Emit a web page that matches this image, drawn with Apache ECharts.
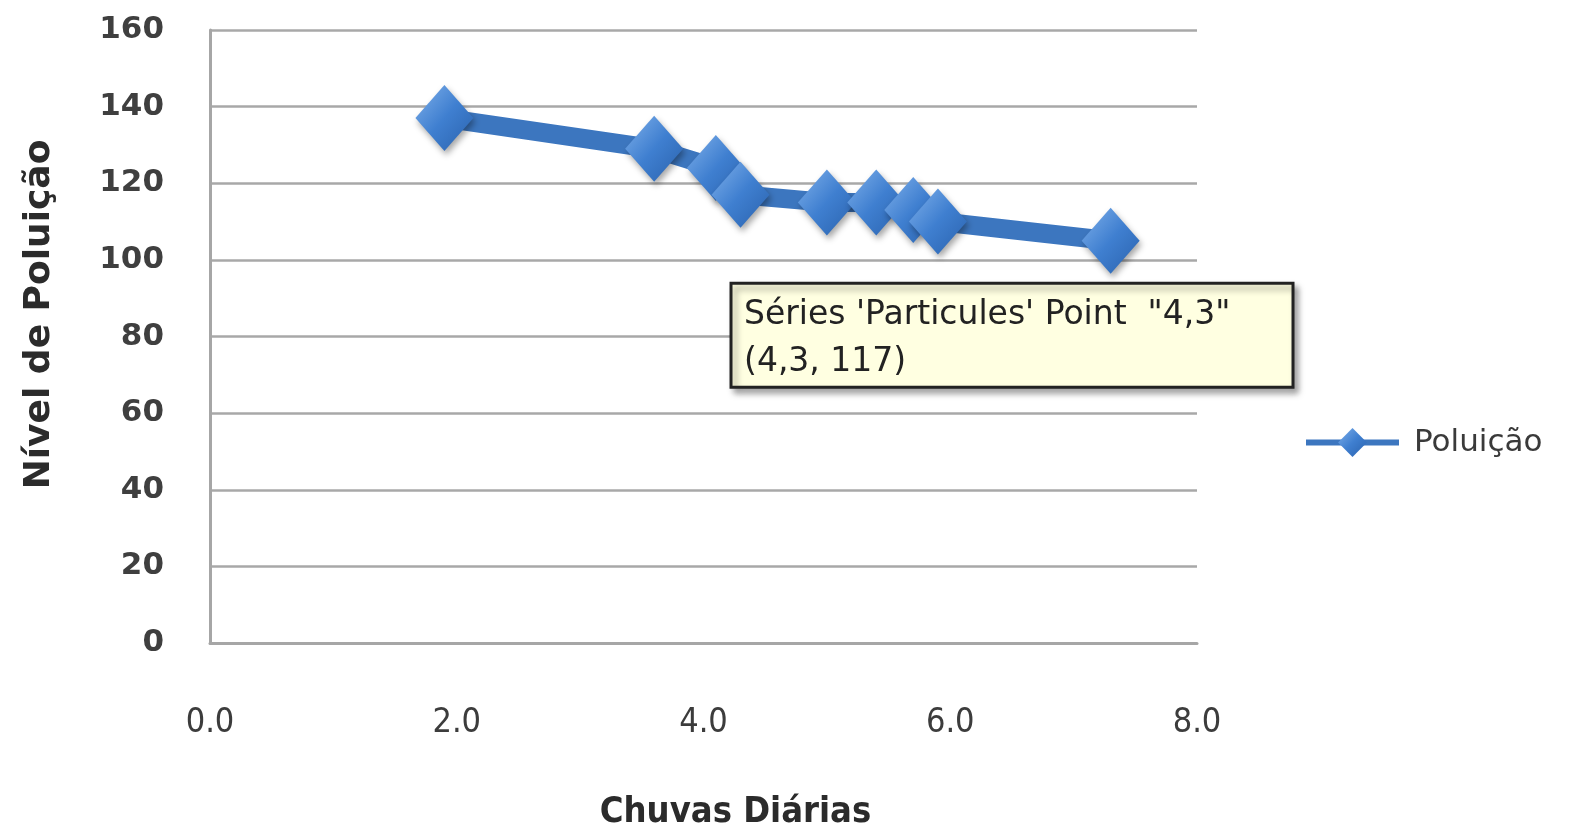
<!DOCTYPE html>
<html>
<head>
<meta charset="utf-8">
<script src="https://cdn.jsdelivr.net/npm/echarts@6/dist/echarts.min.js"></script>
<style>html,body{margin:0;padding:0;background:#fff}#c{width:1570px;height:831px}</style>
</head>
<body>
<div id="c"></div>
<script>
var chuvas = [1.9, 3.6, 4.1, 4.3, 5.0, 5.4, 5.7, 5.9, 7.3];
var poluicao = [137, 129, 124, 117, 115, 115, 113, 110, 105];
var seriesName = 'Poluição';
var xTitle = 'Chuvas Diárias';
var yTitle = 'Nível de Poluição';
var tipLine1 = "Séries 'Particules' Point  \"4,3\"";
var tipLine2 = '(4,3, 117)';
var tipPoint = [4.3, 117];

var data = chuvas.map(function (x, i) { return [x, poluicao[i]]; });

var chart = echarts.init(document.getElementById('c'));
var diamondColor = new echarts.graphic.LinearGradient(0, 0, 1, 1, [
  {offset: 0, color: '#7fb0ea'},
  {offset: 0.5, color: '#3f7fd0'},
  {offset: 1, color: '#2a62ad'}
]);
chart.setOption({
  animation: false,
  grid: {left: 210, right: 373, top: 30, bottom: 188, outerBoundsMode: 'none', containLabel: false},
  legend: {
    left: 1298, top: 422, orient: 'vertical',
    itemWidth: 93, itemHeight: 36, itemGap: 10,
    lineStyle: {width: 6, color: '#3c76bf'},
    itemStyle: {color: diamondColor},
    textStyle: {fontFamily: 'DejaVu Sans', fontSize: 31, color: '#3a3a3a', padding: [0, 0, 0, 10]},
    data: [{name: seriesName}]
  },
  xAxis: {
    type: 'value', min: 0, max: 8, interval: 2,
    name: xTitle, nameLocation: 'middle', nameGap: 152,
    nameTextStyle: {fontFamily: 'DejaVu Sans Condensed', fontWeight: 'bold', fontSize: 36, color: '#2b2b2b', padding: [0, 0, 0, 64]},
    axisLine: {show: true, lineStyle: {color: '#a6a6a6', width: 3}},
    axisTick: {show: false},
    splitLine: {show: false},
    axisLabel: {margin: 63, fontFamily: 'DejaVu Sans Condensed', fontSize: 34, color: '#3c3c3c',
      formatter: function (v) { return v.toFixed(1); }}
  },
  yAxis: {
    type: 'value', min: 0, max: 160, interval: 20,
    name: yTitle, nameLocation: 'middle', nameGap: 152, nameRotate: 90,
    nameTextStyle: {fontFamily: 'DejaVu Sans', fontWeight: 'bold', fontSize: 36, color: '#2b2b2b', padding: [0, 0, 0, 44]},
    axisLine: {show: true, lineStyle: {color: '#a6a6a6', width: 3}},
    axisTick: {show: false},
    splitLine: {show: true, lineStyle: {color: '#a8a8a8', width: 2.5}},
    axisLabel: {margin: 46, fontFamily: 'DejaVu Sans', fontWeight: 'bold', fontSize: 31, color: '#3f3f3f'}
  },
  series: [{
    name: seriesName, type: 'line', data: data,
    symbol: 'diamond', symbolSize: [58, 66],
    lineStyle: {color: '#3c76bf', width: 19},
    itemStyle: {color: diamondColor, shadowColor: 'rgba(0,0,0,0.35)', shadowBlur: 6, shadowOffsetX: 2, shadowOffsetY: 4},
    z: 3
  }]
});

var p = chart.convertToPixel({gridIndex: 0}, tipPoint);
var bx = p[0] - 11, by = p[1] + 87;
chart.setOption({
  graphic: [{
    type: 'group', left: bx, top: by, z: 100,
    children: [
      {type: 'rect', shape: {x: 0, y: 0, width: 562, height: 104},
        style: {fill: '#ffffe1', stroke: '#222', lineWidth: 3, shadowColor: 'rgba(0,0,0,0.35)', shadowBlur: 6, shadowOffsetX: 4, shadowOffsetY: 5}},
      {type: 'text', style: {x: 13, y: 16, text: tipLine1, fontFamily: 'DejaVu Sans', fontSize: 33, fill: '#222'}},
      {type: 'text', style: {x: 13, y: 63, text: tipLine2, fontFamily: 'DejaVu Sans', fontSize: 33, fill: '#222'}}
    ]
  }]
});
</script>
</body>
</html>
